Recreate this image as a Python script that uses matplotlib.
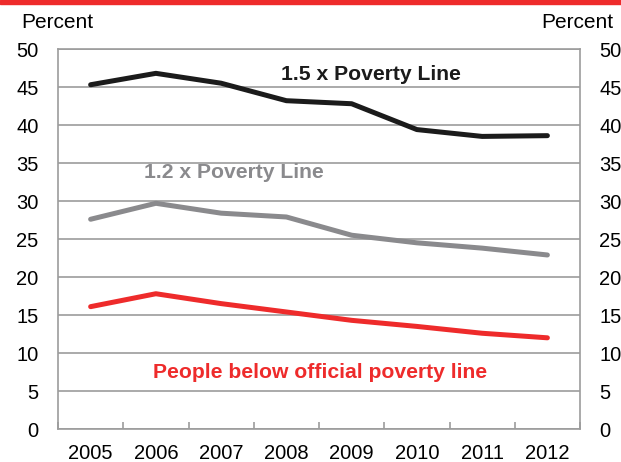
import matplotlib
matplotlib.use("Agg")
import matplotlib.pyplot as plt
from matplotlib.patches import Rectangle

plt.rcParams["font.family"] = ["Liberation Sans", "DejaVu Sans"]

years = ["2005", "2006", "2007", "2008", "2009", "2010", "2011", "2012"]
pov_15 = [45.3, 46.8, 45.5, 43.2, 42.8, 39.4, 38.5, 38.6]
pov_12 = [27.6, 29.7, 28.4, 27.9, 25.5, 24.5, 23.8, 22.9]
official = [16.1, 17.8, 16.5, 15.4, 14.3, 13.5, 12.6, 12.0]

RED = "#EE2B2B"
GRAY = "#8A8A8D"
BLACK = "#1B1B1B"
GRID = "#9C9C9C"

fig = plt.figure(figsize=(6.21, 4.62), dpi=100)
ax = fig.add_axes([0.0934, 0.0714, 0.8406, 0.8225])

# red strip across the top edge
fig.patches.append(Rectangle((0, 0.991), 1, 0.009, transform=fig.transFigure,
                             color=RED, zorder=10))

x = range(len(years))
ax.plot(x, pov_15, color=BLACK, lw=3.6, solid_capstyle="round", zorder=3)
ax.plot(x, pov_12, color=GRAY, lw=3.6, solid_capstyle="round", zorder=3)
ax.plot(x, official, color=RED, lw=3.6, solid_capstyle="round", zorder=3)

ax.set_xlim(-0.5, 7.5)
ax.set_ylim(0, 50)
ax.set_yticks(range(0, 51, 5))
ax.yaxis.grid(True, color=GRID, lw=1.2)
ax.set_axisbelow(True)

ax.set_xticks(list(x))
ax.set_xticklabels(years)
ax.set_xticks([i + 0.5 for i in range(-1, 8)], minor=True)
ax.tick_params(axis="x", which="major", length=0, pad=11, labelsize=14.5)
ax.tick_params(axis="x", which="minor", direction="in", length=5, color=GRID, width=1.2)
ax.tick_params(axis="y", length=0, pad=14, labelsize=14.5,
               labelleft=True, labelright=True)

for s in ax.spines.values():
    s.set_color(GRID)
    s.set_linewidth(1.2)

ax.text(4.30, 46.6, "1.5 x Poverty Line", color=BLACK, fontsize=15.2,
        fontweight="bold", ha="center", va="center")
ax.text(2.20, 33.8, "1.2 x Poverty Line", color=GRAY, fontsize=15.2,
        fontweight="bold", ha="center", va="center")
ax.text(3.52, 7.5, "People below official poverty line", color=RED, fontsize=15.2,
        fontweight="bold", ha="center", va="center")

fig.text(0.035, 0.952, "Percent", fontsize=15, ha="left", va="center")
fig.text(0.988, 0.952, "Percent", fontsize=15, ha="right", va="center")

fig.savefig("out.png", dpi=100)
